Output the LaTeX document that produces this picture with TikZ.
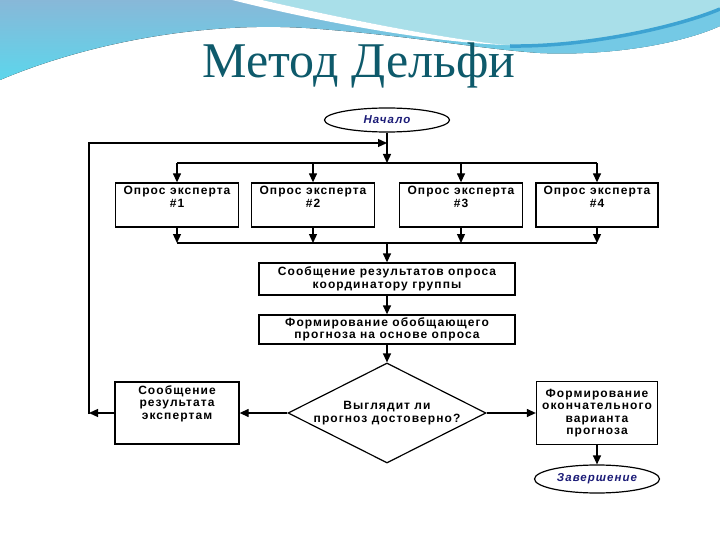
\documentclass[tikz,border=0pt]{standalone}
\usepackage{fontspec}
\newfontfamily\titlefont{Liberation Serif}
\newfontfamily\boxfont[LetterSpace=9]{Liberation Sans}
\usetikzlibrary{shapes.geometric,arrows.meta}
\definecolor{titleteal}{HTML}{0E5A6B}
\definecolor{startblue}{HTML}{1C1C78}
\definecolor{skytop}{HTML}{88B8D8}
\definecolor{skybot}{HTML}{5CD6EC}
\definecolor{palecyan}{HTML}{A9DFE9}
\definecolor{bandcyan}{HTML}{74C9E5}
\definecolor{edgeblue}{HTML}{3DA3D2}

\tikzset{
  txt/.style={font={\boxfont\bfseries\fontsize{12}{12.5}\selectfont}, align=center},
  box/.style={draw, line width=1.3pt, inner sep=0pt, txt},
  toptext/.style={anchor=north, inner sep=0pt, yshift=-4pt, txt},
  oval/.style={draw, ellipse, line width=1.2pt, inner sep=0pt, minimum width=125pt,
    font={\boxfont\bfseries\itshape\fontsize{11.5}{12.5}\selectfont}, text=startblue},
  arr/.style={line width=1.3pt, -{Triangle[length=9pt,width=8pt]}},
  line/.style={line width=1.3pt}
}

\begin{document}
\begin{tikzpicture}[x=1pt,y=-1pt]
  \useasboundingbox (0,0) rectangle (720,540);
  \fill[white] (0,0) rectangle (720,540);

  % header waves
  \fill[top color=skytop, bottom color=skybot] (0,0) -- (720,0) -- (720,26)
    .. controls (680,44) and (610,56) .. (540,53)
    .. controls (480,49) and (420,37) .. (320,29)
    .. controls (200,19) and (80,46) .. (0,80) -- cycle;
  \fill[bandcyan] (505,45) .. controls (590,47) and (680,26) .. (720,8) -- (720,26)
    .. controls (680,44) and (610,56) .. (540,53) .. controls (528,52) and (516,49) .. (505,45);
  \fill[palecyan] (262,0) .. controls (340,18) and (440,38) .. (505,45)
    .. controls (590,47) and (680,26) .. (720,8) -- (720,0) -- cycle;
  \draw[edgeblue, line width=3.5pt] (510,46) .. controls (590,47) and (680,26) .. (720,9);
  \fill[white] (232,0) .. controls (320,22) and (430,42) .. (505,45)
    .. controls (440,38) and (340,18) .. (262,0) -- cycle;

  \node[font={\titlefont\fontsize{50}{50}\selectfont}, text=titleteal, anchor=base] (title) at (359,78) {Метод Дельфи};

  % flowchart
  \node[oval, minimum height=24pt] (start) at (387,120) {Начало};
  \coordinate (loopin) at (387,143);
  \coordinate (split) at (387,163);
  \coordinate (merge) at (387,243);
  \coordinate (backL) at (89,414);

  \node[box, minimum width=123pt, minimum height=44pt, label={[toptext]north:Опрос эксперта\\\#1}] (e1) at (177,205) {};
  \node[box, minimum width=123pt, minimum height=44pt, label={[toptext]north:Опрос эксперта\\\#2}] (e2) at (313,205) {};
  \node[box, minimum width=123pt, minimum height=44pt, label={[toptext]north:Опрос эксперта\\\#3}] (e3) at (461,205) {};
  \node[box, minimum width=122pt, minimum height=44pt, label={[toptext]north:Опрос эксперта\\\#4}] (e4) at (597,205) {};

  \node[box, minimum width=256pt, minimum height=32pt] (report) at (387,279) {Сообщение результатов опроса\\координатору группы};
  \node[box, minimum width=256pt, minimum height=29pt] (forecast) at (387,329.5) {Формирование обобщающего\\прогноза на основе опроса};
  \node[draw, diamond, aspect=2, line width=1.2pt, inner sep=0pt, minimum width=198pt, minimum height=100pt, txt] (check) at (387,413) {Выглядит ли\\прогноз достоверно?};
  \node[box, minimum width=124pt, minimum height=62pt, label={[toptext]north:Сообщение\\результата\\экспертам}] (feedback) at (177,413) {};
  \node[box, minimum width=121pt, minimum height=63pt] (final) at (597,413) {Формирование\\окончательного\\варианта\\прогноза};
  \node[oval, minimum height=28pt] (finish) at (597,479) {Завершение};

  \draw[arr] (start) -- (split);
  \draw[line] (e1.north |- split) -- (e4.north |- split);
  \foreach \n in {e1,e2,e3,e4} {
    \draw[arr] (\n.north |- split) -- (\n);
    \draw[arr] (\n) -- (\n.south |- merge);
  }
  \draw[line] (e1.south |- merge) -- (e4.south |- merge);
  \draw[arr] (merge) -- (report);
  \draw[arr] (report) -- (forecast);
  \draw[arr] (forecast) -- (check);
  \draw[arr] (check) -- (feedback);
  \draw[arr] (check) -- (final);
  \draw[arr] (final) -- (finish);
  \draw[arr] (feedback) -- (backL |- feedback);
  \draw[arr] (backL) |- (loopin);
\end{tikzpicture}
\end{document}
